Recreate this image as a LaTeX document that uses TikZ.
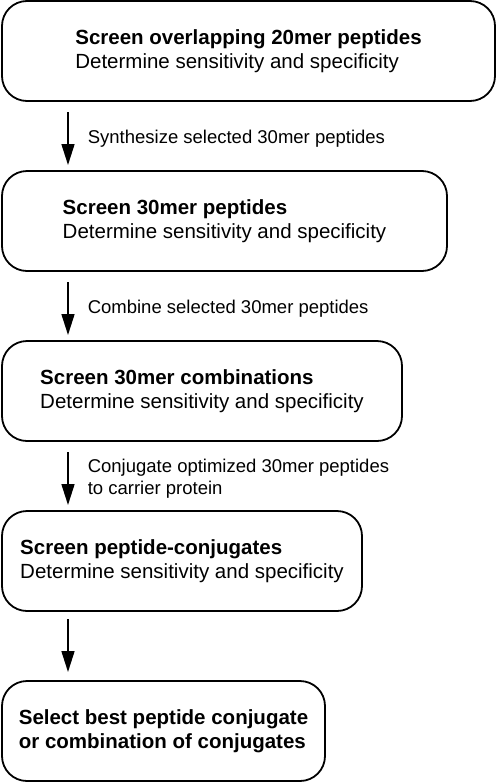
\documentclass[tikz,border=0pt]{standalone}
\usepackage{fontspec}
\setmainfont{Liberation Sans}
\usetikzlibrary{positioning,arrows.meta}

\tikzset{
  stage/.style={draw, line width=1.8bp, rounded corners=25bp, minimum height=100bp,
    inner sep=0pt, outer sep=0pt, align=left, font=\fontsize{20.5bp}{23.5bp}\selectfont},
  flow/.style={line width=1.6bp, -{Triangle[length=21bp,width=13bp]}},
  note/.style={right=19bp, inner sep=0pt, align=left,
    font=\fontsize{18.5bp}{22bp}\selectfont},
}

\begin{document}
\begin{tikzpicture}[x=1bp, y=-1bp]
    \useasboundingbox (0,0) rectangle (496,783);

    % Блоки этапов
    \node[stage, anchor=north west, minimum width=493bp] (b1) at (2,1)
        {\textbf{Screen overlapping 20mer peptides}\\Determine sensitivity and specificity};
    \node[stage, below=70bp of b1.south west, anchor=north west, minimum width=445bp] (b2)
        {\textbf{Screen 30mer peptides}\\Determine sensitivity and specificity};
    \node[stage, below=70bp of b2.south west, anchor=north west, minimum width=400bp] (b3)
        {\textbf{Screen 30mer combinations}\\Determine sensitivity and specificity};
    \node[stage, below=70bp of b3.south west, anchor=north west, minimum width=360bp] (b4)
        {\textbf{Screen peptide-conjugates}\\Determine sensitivity and specificity};
    \node[stage, below=70bp of b4.south west, anchor=north west, minimum width=323bp] (b5)
        {\textbf{Select best peptide conjugate}\\\textbf{or combination of conjugates}};

    % Стрелки с подписями
    \draw[flow] ([xshift=66bp,yshift=-11bp]b1.south west) -- ([xshift=66bp,yshift=6bp]b2.north west)
        node[midway, note] (l1) {Synthesize selected 30mer peptides};
    \draw[flow] ([xshift=66bp,yshift=-11bp]b2.south west) -- ([xshift=66bp,yshift=6bp]b3.north west)
        node[midway, note] (l2) {Combine selected 30mer peptides};
    \draw[flow] ([xshift=66bp,yshift=-11bp]b3.south west) -- ([xshift=66bp,yshift=6bp]b4.north west)
        node[midway, note] (l3) {Conjugate optimized 30mer peptides\\to carrier protein};
    \draw[flow] ([xshift=66bp,yshift=-8bp]b4.south west) -- ([xshift=66bp,yshift=9bp]b5.north west);
\end{tikzpicture}
\end{document}
